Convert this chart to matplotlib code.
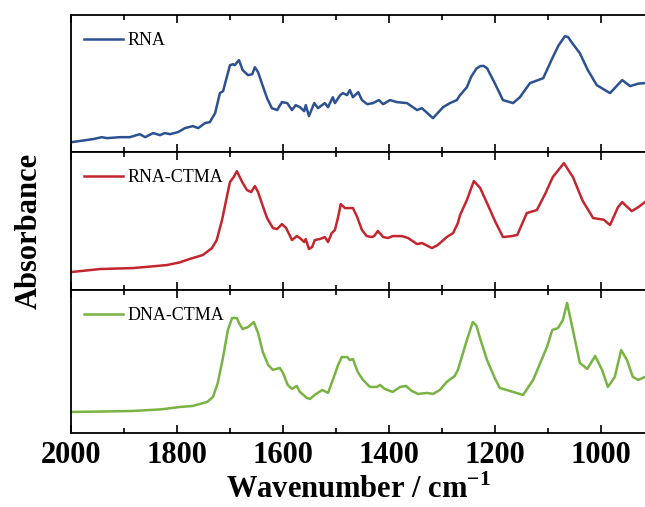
import numpy as np
import matplotlib
matplotlib.use('Agg')
import matplotlib.pyplot as plt

plt.rcParams['font.family'] = 'Liberation Serif'
plt.rcParams['mathtext.fontset'] = 'custom'
plt.rcParams['mathtext.rm'] = 'Liberation Serif:bold'
plt.rcParams['mathtext.bf'] = 'Liberation Serif:bold'

# FTIR spectra, wavenumber in cm^-1, absorbance in arbitrary units (each panel 0..1)
wn_rna = [1998, 1958, 1942, 1932, 1908, 1889, 1870, 1860, 1845, 1832, 1823, 1813, 1798,
          1785, 1770, 1760, 1747, 1738, 1728, 1719, 1713, 1700, 1694, 1691, 1683, 1676,
          1666, 1658, 1653, 1647, 1640, 1630, 1621, 1611, 1602, 1592, 1583, 1576, 1568,
          1560, 1557, 1551, 1541, 1534, 1521, 1515, 1506, 1502, 1492, 1487, 1479, 1474,
          1468, 1458, 1451, 1441, 1430, 1419, 1411, 1398, 1385, 1366, 1347, 1338, 1317,
          1298, 1285, 1272, 1266, 1253, 1245, 1235, 1228, 1222, 1215, 1200, 1185, 1166,
          1153, 1134, 1109, 1091, 1080, 1068, 1062, 1055, 1040, 1025, 1008, 983, 960, 945,
          930, 917]
abs_rna = [0.073, 0.095, 0.109, 0.102, 0.109, 0.109, 0.131, 0.109, 0.139, 0.124, 0.139,
           0.131, 0.146, 0.175, 0.190, 0.175, 0.212, 0.219, 0.285, 0.431, 0.445, 0.635,
           0.642, 0.635, 0.672, 0.599, 0.562, 0.569, 0.620, 0.584, 0.504, 0.394, 0.321,
           0.307, 0.365, 0.358, 0.307, 0.343, 0.328, 0.299, 0.343, 0.263, 0.358, 0.321,
           0.358, 0.328, 0.401, 0.358, 0.416, 0.431, 0.416, 0.453, 0.401, 0.438, 0.380,
           0.350, 0.358, 0.380, 0.350, 0.380, 0.365, 0.358, 0.307, 0.321, 0.248, 0.328,
           0.358, 0.380, 0.416, 0.474, 0.550, 0.610, 0.628, 0.630, 0.613, 0.500, 0.380,
           0.358, 0.401, 0.504, 0.540, 0.693, 0.780, 0.847, 0.840, 0.800, 0.723, 0.600,
           0.489, 0.431, 0.526, 0.482, 0.500, 0.504]

wn_rctma = [2000, 1945, 1883, 1850, 1819, 1795, 1776, 1751, 1734, 1725, 1715, 1706, 1700,
            1693, 1687, 1677, 1668, 1660, 1653, 1647, 1640, 1630, 1619, 1611, 1602, 1594,
            1583, 1574, 1568, 1560, 1557, 1551, 1545, 1540, 1530, 1521, 1515, 1508, 1502,
            1496, 1491, 1483, 1468, 1460, 1451, 1442, 1432, 1428, 1421, 1411, 1402, 1393,
            1376, 1364, 1347, 1338, 1319, 1308, 1291, 1279, 1270, 1266, 1253, 1240, 1228,
            1215, 1200, 1185, 1170, 1158, 1140, 1121, 1105, 1091, 1070, 1053, 1035, 1015,
            995, 983, 968, 960, 950, 942, 930, 917]
abs_rctma = [0.130, 0.152, 0.159, 0.170, 0.181, 0.200, 0.225, 0.254, 0.304, 0.362, 0.507,
             0.674, 0.783, 0.819, 0.862, 0.783, 0.725, 0.710, 0.754, 0.710, 0.630, 0.522,
             0.449, 0.442, 0.478, 0.449, 0.362, 0.391, 0.377, 0.348, 0.370, 0.297, 0.312,
             0.362, 0.370, 0.384, 0.348, 0.413, 0.435, 0.529, 0.623, 0.594, 0.594, 0.529,
             0.435, 0.391, 0.384, 0.391, 0.428, 0.384, 0.377, 0.391, 0.391, 0.377, 0.333,
             0.341, 0.304, 0.326, 0.384, 0.413, 0.486, 0.543, 0.652, 0.790, 0.740, 0.630,
             0.500, 0.384, 0.390, 0.399, 0.558, 0.580, 0.700, 0.819, 0.920, 0.819, 0.650,
             0.522, 0.510, 0.471, 0.600, 0.638, 0.600, 0.572, 0.600, 0.638]

wn_dctma = [2000, 1940, 1883, 1830, 1794, 1770, 1743, 1732, 1723, 1713, 1704, 1696, 1687,
            1683, 1676, 1666, 1655, 1647, 1638, 1628, 1619, 1606, 1600, 1591, 1583, 1574,
            1568, 1555, 1549, 1540, 1526, 1515, 1506, 1496, 1489, 1479, 1474, 1468, 1459,
            1449, 1436, 1423, 1417, 1408, 1393, 1379, 1368, 1357, 1345, 1328, 1317, 1304,
            1291, 1276, 1270, 1266, 1253, 1242, 1235, 1228, 1215, 1200, 1191, 1166, 1147,
            1128, 1102, 1092, 1081, 1072, 1064, 1053, 1040, 1026, 1011, 998, 987, 974, 962,
            951, 940, 930, 917]
abs_dctma = [0.147, 0.150, 0.154, 0.165, 0.182, 0.189, 0.217, 0.252, 0.350, 0.531, 0.720,
             0.804, 0.804, 0.769, 0.727, 0.741, 0.776, 0.699, 0.566, 0.476, 0.441, 0.455,
             0.420, 0.336, 0.308, 0.329, 0.287, 0.245, 0.238, 0.266, 0.301, 0.280, 0.371,
             0.476, 0.531, 0.531, 0.510, 0.517, 0.427, 0.371, 0.322, 0.322, 0.336, 0.308,
             0.287, 0.322, 0.329, 0.294, 0.273, 0.280, 0.273, 0.301, 0.357, 0.399, 0.441,
             0.490, 0.650, 0.776, 0.750, 0.660, 0.510, 0.380, 0.315, 0.287, 0.266, 0.371,
             0.601, 0.720, 0.734, 0.790, 0.909, 0.720, 0.490, 0.448, 0.538, 0.441, 0.322,
             0.392, 0.580, 0.510, 0.392, 0.371, 0.392]

series = [
    (wn_rna, abs_rna, 'RNA', '#2c5190'),
    (wn_rctma, abs_rctma, 'RNA-CTMA', '#c3262e'),
    (wn_dctma, abs_dctma, 'DNA-CTMA', '#78b343'),
]

fig = plt.figure(figsize=(6.45, 5.07), dpi=100)
left, right = 0.110, 1.0
edges = [0.970, 0.700, 0.428, 0.146]

for i, (wn, a, name, col) in enumerate(series):
    ax = fig.add_axes([left, edges[i + 1], right - left, edges[i] - edges[i + 1]])
    ax.plot(wn, a, color=col, lw=1.8, label=name, solid_joinstyle='round')
    ax.set_xlim(2000, 917)
    ax.set_ylim(0, 1)
    ax.set_yticks([])
    ax.set_xticks(np.arange(2000, 900, -200))
    ax.set_xticks(np.arange(1900, 900, -200), minor=True)
    ax.tick_params(axis='x', which='both', direction='in', top=True, bottom=True, width=1.2)
    ax.tick_params(axis='x', which='major', length=6)
    ax.tick_params(axis='x', which='minor', length=3.5)
    for s in ['left', 'top', 'bottom']:
        ax.spines[s].set_linewidth(1.3)
    ax.spines['right'].set_visible(False)
    ax.legend(loc='upper left', frameon=False, fontsize=13, handlelength=2.2,
              handletextpad=0.25, borderaxespad=0.3, bbox_to_anchor=(0.0, 0.97))
    if i < 2:
        ax.set_xticklabels([])
    else:
        ax.tick_params(axis='x', which='major', pad=6)
        for t in ax.get_xticklabels():
            t.set_fontsize(22)
            t.set_fontweight('bold')
        ax.set_xlabel(r'Wavenumber / cm$^{-1}$', fontsize=22, fontweight='bold', labelpad=3)

fig.text(0.046, 0.545, 'Absorbance', rotation=90, fontsize=22, fontweight='bold',
         ha='center', va='center')

fig.savefig('out.png', dpi=100)
